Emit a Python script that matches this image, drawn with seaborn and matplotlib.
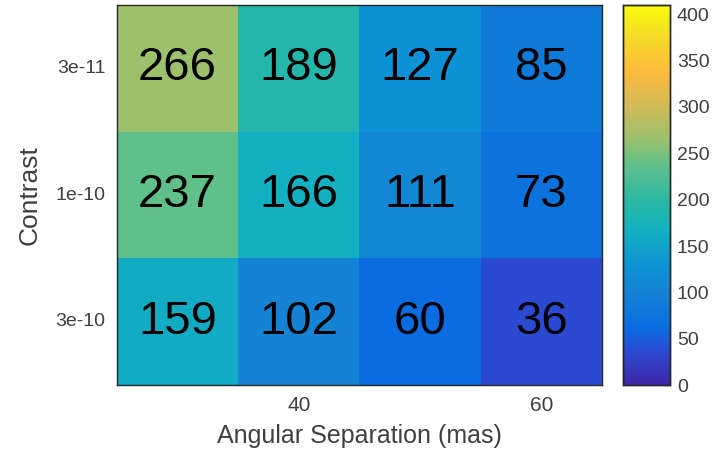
import numpy as np
import pandas as pd
import seaborn as sns
import matplotlib.pyplot as plt
from matplotlib.colors import LinearSegmentedColormap

# data
contrast = ["3e-11", "1e-10", "3e-10"]
separation = [30, 40, 50, 60]
row_3e11 = [266, 189, 127, 85]
row_1e10 = [237, 166, 111, 73]
row_3e10 = [159, 102, 60, 36]
shown_sep_ticks = [40, 60]
cbar_ticks = [0, 50, 100, 150, 200, 250, 300, 350, 400]
vmin, vmax = 0, 410

df = pd.DataFrame([row_3e11, row_1e10, row_3e10], index=contrast, columns=separation)

# parula-like colormap (MATLAB default), anchors matched to the picture
anchor_vals = [0, 36, 60, 100, 127, 166, 200, 237, 266, 300, 340, 372, 410]
anchor_cols = ["#3e26a8", "#2b4ad2", "#0a6ce0", "#1482d4", "#0e92d6", "#12b0c0",
               "#2cb9a2", "#60c08a", "#9bc06c", "#d0ba58", "#fdbc3c", "#f5d72a",
               "#f9fb0e"]
parula = LinearSegmentedColormap.from_list(
    "parula", [((v - vmin) / (vmax - vmin), c) for v, c in zip(anchor_vals, anchor_cols)])

sns.set_theme(style="white")
plt.rcParams['font.family'] = ['Liberation Sans', 'DejaVu Sans']

fig = plt.figure(figsize=(7.21, 4.51), dpi=100)
ax = fig.add_axes([0.162, 0.146, 0.673, 0.843])
cax = fig.add_axes([0.864, 0.146, 0.065, 0.843])

sns.heatmap(df, ax=ax, cbar_ax=cax, cmap=parula, vmin=vmin, vmax=vmax,
            annot=True, fmt="d", annot_kws={"size": 34, "color": "black"},
            cbar_kws={"ticks": cbar_ticks})

grey = "#404040"
ax.set_xticks([separation.index(s) + 0.5 for s in shown_sep_ticks])
ax.set_xticklabels([str(s) for s in shown_sep_ticks], fontsize=15, color=grey)
ax.set_yticks(np.arange(len(contrast)) + 0.5)
ax.set_yticklabels(contrast, fontsize=14, color=grey, rotation=0)
ax.tick_params(direction="in", length=4, width=0.8, color="#262626",
               top=True, right=True, bottom=True, left=True, pad=8)
ax.set_xlabel("Angular Separation (mas)", fontsize=18, color=grey, labelpad=6)
ax.set_ylabel("Contrast", fontsize=19, color=grey, labelpad=10)
for s in ax.spines.values():
    s.set_visible(True)
    s.set_color("#262626")
    s.set_linewidth(1)

cax.tick_params(direction="in", length=4, width=0.8, color="#262626",
                labelsize=14, labelcolor=grey, pad=5)
for s in cax.spines.values():
    s.set_visible(True)
    s.set_color("#262626")
    s.set_linewidth(1)

fig.savefig("out.png", dpi=100)
